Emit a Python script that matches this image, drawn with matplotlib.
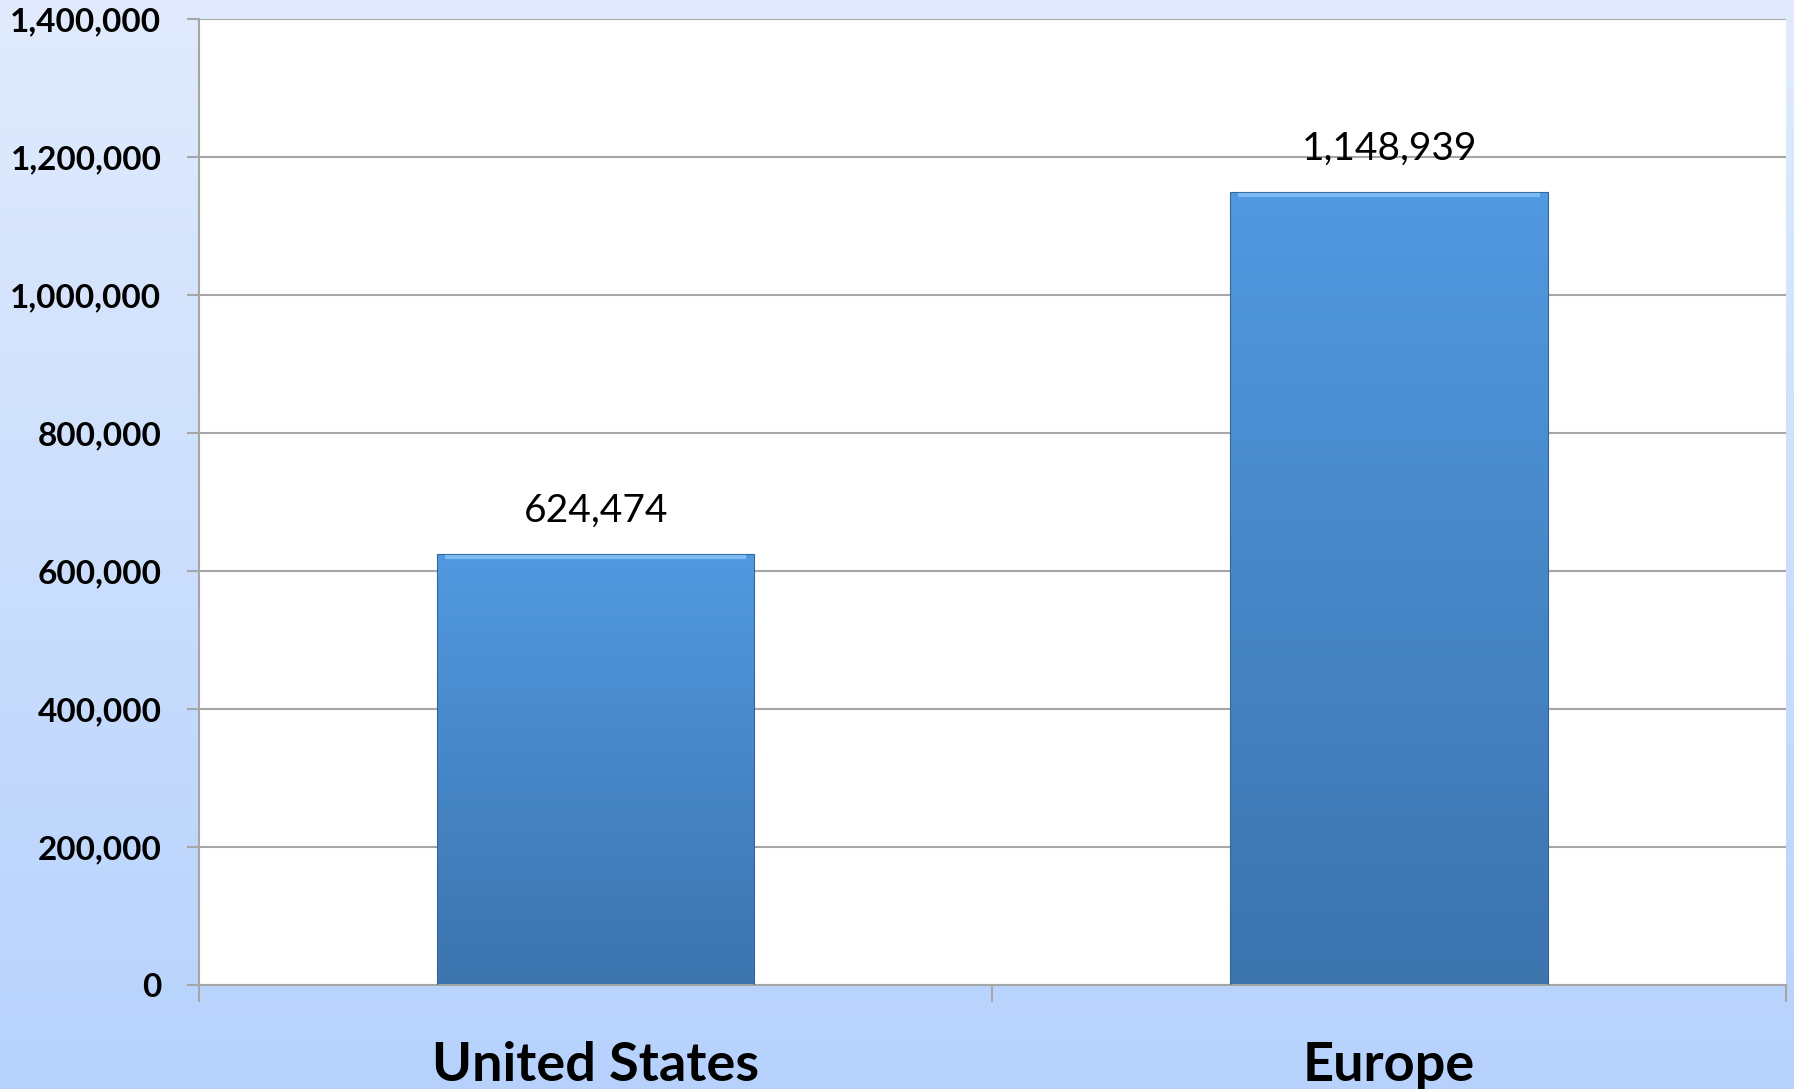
import matplotlib

matplotlib.use("Agg")

import matplotlib.pyplot as plt
import numpy as np
from matplotlib.colors import LinearSegmentedColormap
from matplotlib.ticker import FuncFormatter, MultipleLocator

# data
regions = ["United States", "Europe"]
values = [624474, 1148939]

plt.rcParams["font.family"] = ["Lato", "DejaVu Sans"]

fig = plt.figure(figsize=(17.94, 10.89), dpi=100)

# background gradient (light at top, stronger blue at bottom)
bg = fig.add_axes([0, 0, 1, 1], zorder=-10)
bg.imshow(np.linspace(0, 1, 256).reshape(-1, 1), aspect="auto",
          cmap=LinearSegmentedColormap.from_list("bg", ["#e1ebfd", "#b6d2fc"]),
          extent=[0, 1, 0, 1], origin="upper")
bg.axis("off")

ax = fig.add_axes([0.1109, 0.0955, 0.8846, 0.8871])
ax.set_facecolor("white")

x = np.arange(len(regions))
width = 0.4
bar_cmap = LinearSegmentedColormap.from_list("bar", ["#5199e0", "#3c74ae"])
bars = ax.bar(x, values, width=width, color="none", edgecolor="#35679c",
              linewidth=0.8, zorder=3)
for b in bars:
    x0, h = b.get_x(), b.get_height()
    im = ax.imshow(np.linspace(0, 1, 256).reshape(-1, 1), aspect="auto",
                   cmap=bar_cmap, extent=[x0, x0 + width, 0, h],
                   origin="upper", zorder=2)
    im.set_clip_path(b)
    # light bevel on top edge
    ax.plot([x0 + 0.01, x0 + width - 0.01], [h - 4000, h - 4000],
            color="#7dbcf2", linewidth=3, zorder=4, solid_capstyle="butt")
    ax.annotate(f"{h:,.0f}", (x0 + width / 2, h), xytext=(0, 18),
                textcoords="offset points", ha="center", va="bottom",
                fontsize=28, color="black")

ax.set_xlim(-0.5, 1.5)
ax.set_ylim(0, 1400000)
ax.yaxis.set_major_locator(MultipleLocator(200000))
ax.yaxis.set_major_formatter(FuncFormatter(lambda v, p: f"{v:,.0f}"))
ax.grid(axis="y", color="#a6a6a6", linewidth=1.5, zorder=0)
ax.set_axisbelow(True)

ax.set_xticks([-0.5, 0.5, 1.5])
ax.set_xticklabels([])
ax.set_xticks(x, minor=True)
ax.set_xticklabels(regions, minor=True, fontsize=39, fontweight="bold")
ax.tick_params(axis="x", which="major", length=12, width=1.5, color="#a6a6a6")
ax.tick_params(axis="x", which="minor", length=0, pad=40)
ax.tick_params(axis="y", length=9, width=1.5, color="#a6a6a6", pad=18,
               labelsize=24)
for lab in ax.get_yticklabels():
    lab.set_fontweight("bold")

for side in ("top", "right"):
    ax.spines[side].set_visible(False)
for side in ("left", "bottom"):
    ax.spines[side].set_color("#a6a6a6")
    ax.spines[side].set_linewidth(1.5)

fig.savefig("out.png", dpi=100)
